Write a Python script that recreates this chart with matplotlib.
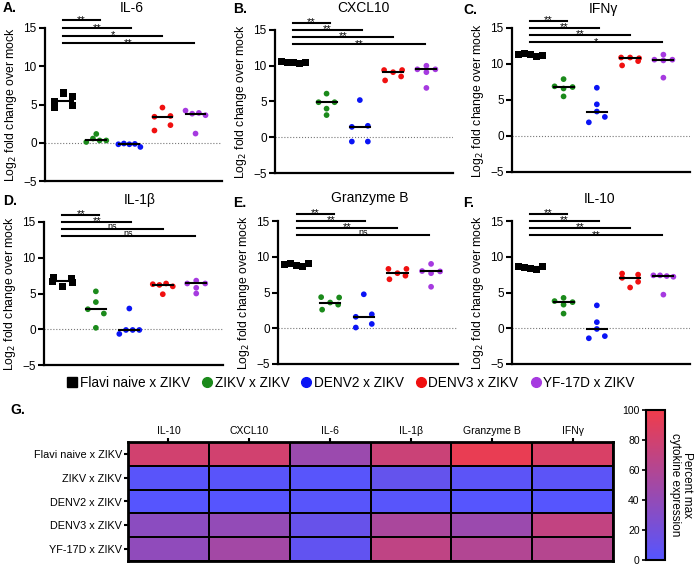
import numpy as np
import matplotlib.pyplot as plt
from matplotlib.colors import LinearSegmentedColormap
from matplotlib.lines import Line2D

plt.rcParams['font.family'] = ['Liberation Sans', 'DejaVu Sans']

# groups / colours
groups = ['Flavi naive x ZIKV', 'ZIKV x ZIKV', 'DENV2 x ZIKV', 'DENV3 x ZIKV', 'YF-17D x ZIKV']
colors = ['black', '#1b8a1b', '#0a14f5', '#f01010', '#a63ae0']
markers = ['s', 'o', 'o', 'o', 'o']

# log2 fold change over mock, 5 per group
il6 = [[6.5, 4.6, 5.4, 6.1, 4.9], [0.1, 0.55, 1.15, 0.3, 0.3], [-0.2, -0.1, -0.2, -0.15, -0.55],
       [4.6, 3.4, 3.5, 1.6, 2.3], [4.2, 3.8, 3.9, 3.6, 1.2]]
cxcl10 = [[10.6, 10.4, 10.5, 10.3, 10.4], [6.1, 4.9, 4.0, 4.9, 3.1], [5.2, 1.45, 1.6, -0.6, -0.6],
          [9.4, 9.1, 9.4, 7.95, 8.5], [10.0, 9.5, 9.1, 9.5, 6.9]]
ifng = [[11.3, 11.5, 11.3, 11.0, 11.2], [7.9, 6.9, 6.6, 6.8, 5.5], [6.7, 4.4, 3.4, 1.9, 2.65],
        [10.9, 10.9, 10.8, 9.8, 10.4], [10.6, 11.3, 10.5, 10.6, 8.1]]
il1b = [[7.2, 6.7, 6.0, 6.5, 7.1], [5.3, 3.8, 2.8, 2.2, 0.2], [2.9, -0.65, -0.1, -0.1, -0.1],
        [6.3, 6.2, 6.4, 6.0, 4.9], [6.4, 6.8, 5.8, 6.4, 5.0]]
gzmb = [[8.9, 9.0, 8.8, 8.7, 9.0], [4.35, 3.6, 4.3, 2.6, 3.3], [4.75, 1.6, 1.95, 0.1, 0.6],
        [8.3, 7.7, 8.3, 6.85, 7.35], [9.0, 8.0, 7.7, 7.95, 5.8]]
il10 = [[8.7, 8.5, 8.3, 8.2, 8.6], [4.25, 3.8, 3.3, 3.65, 2.05], [3.2, 0.85, -0.1, -1.4, -1.1],
        [7.65, 7.5, 7.05, 6.5, 5.7], [7.4, 7.4, 7.3, 7.2, 4.7]]

panels = [('A.', 'IL-6', il6, ['**', '**', '*', '**']),
          ('B.', 'CXCL10', cxcl10, ['**', '**', '**', '**']),
          ('C.', 'IFN\u03b3', ifng, ['**', '**', '**', '*']),
          ('D.', 'IL-1\u03b2', il1b, ['**', '**', 'ns', 'ns']),
          ('E.', 'Granzyme B', gzmb, ['**', '**', '**', 'ns']),
          ('F.', 'IL-10', il10, ['**', '**', '**', '**'])]
sig_y = [16.0, 15.0, 14.0, 13.0]

# heatmap (percent max cytokine expression)
hm_cols = ['IL-10', 'CXCL10', 'IL-6', 'IL-1\u03b2', 'Granzyme B', 'IFN\u03b3']
hm_vals = np.array([[80, 80, 45, 75, 95, 85],
                    [3, 3, 2, 10, 5, 5],
                    [1, 1, 2, 2, 1, 1],
                    [35, 40, 12, 55, 45, 70],
                    [38, 50, 8, 68, 60, 62]])

W, H = 696, 565
fig = plt.figure(figsize=(W / 100, H / 100), dpi=100)

def fbox(l, r, top, bot):
    return [l / W, 1 - bot / H, (r - l) / W, (bot - top) / H]

# pixel boxes (left, right, y=-5 pos, y=15 pos)
boxes = [(45, 222, 181, 28), (275, 453, 173, 30), (512, 690, 172, 28),
         (44, 223, 365, 222), (278, 458, 364, 221), (512, 690, 364, 221)]
letter_pos = [(3, 8), (233, 9), (463, 10), (3, 201), (233, 203), (463, 203)]
title_pos = [(132, 8), (363, 8), (603, 9), (140, 200), (370, 198), (600, 199)]


def row_offsets(vals, xs, ppu, base, thr=5.5):
    # prism-like scatter: points closer than thr px go in one centred row
    vals = np.asarray(vals, dtype=float)
    order = np.argsort(vals, kind='stable')
    rows, cur = [], [order[0]]
    for i in order[1:]:
        if (vals[i] - vals[cur[0]]) * ppu < thr:
            cur.append(i)
        else:
            rows.append(cur)
            cur = [i]
    rows.append(cur)
    offs = np.zeros(len(vals))
    for row in rows:
        n = len(row)
        if n > 1:
            hw = (base + n) / xs
            for j, i in enumerate(sorted(row)):
                offs[i] = -hw + 2 * hw * j / (n - 1)
    return offs


xl = (-0.55, 4.8)
for (letter, title, data, sig), (l, r, ym5, y15), lp, tp in zip(panels, boxes, letter_pos, title_pos):
    ppu = (ym5 - y15) / 20.0
    top = y15 - 2 * ppu
    ax = fig.add_axes(fbox(l, r, top, ym5))
    xs = (r - l) / (xl[1] - xl[0])
    for g, vals in enumerate(data):
        offs = row_offsets(vals, xs, ppu, 7 if markers[g] == 's' else 6)
        ax.scatter(g + offs, vals, s=26 if markers[g] == 's' else 17, marker=markers[g],
                   color=colors[g], edgecolors='none', zorder=3, clip_on=False)
        ax.plot([g - 0.3, g + 0.3], [np.median(vals)] * 2, color='black', lw=1.5, zorder=4)
    ax.axhline(0, color='#777777', ls=':', lw=0.8, zorder=1)
    for k, (yy, s) in enumerate(zip(sig_y, sig)):
        x1 = 0.15 + 0.95 * (k + 1)
        ax.plot([0, x1], [yy, yy], color='black', lw=1.5, clip_on=False)
        ax.text(x1 / 2, yy - 0.6 if s != 'ns' else yy - 0.2, s, ha='center', va='bottom',
                fontsize=8 if s != 'ns' else 6.5)
    ax.set_xlim(*xl)
    ax.set_ylim(-5, 17)
    ax.set_yticks([-5, 0, 5, 10, 15])
    ax.set_xticks([])
    ax.spines['left'].set_bounds(-5, 15)
    for s in ['top', 'right']:
        ax.spines[s].set_visible(False)
    for s in ['left', 'bottom']:
        ax.spines[s].set_linewidth(1.6)
    ax.tick_params(axis='y', width=1.5, length=4, labelsize=8.5, pad=2)
    ax.set_ylabel('Log$_2$ fold change over mock', fontsize=8.8, labelpad=3, y=10 / 22)
    fig.text(tp[0] / W, 1 - tp[1] / H, title, fontsize=10, ha='center', va='center')
    fig.text(lp[0] / W, 1 - lp[1] / H, letter, fontsize=10, fontweight='bold', va='center')

# legend row
handles = [Line2D([], [], marker=markers[i], color=colors[i], ls='none', markersize=7)
           for i in range(5)]
fig.legend(handles, groups, loc='center', bbox_to_anchor=(350 / W, 1 - 383 / H), ncol=5,
           frameon=False, fontsize=9.8, handletextpad=0.05, columnspacing=0.75,
           handlelength=1.0, borderaxespad=0, borderpad=0)

# heatmap
cmap = LinearSegmentedColormap.from_list('bp', ['#5555ff', '#f03c4b'])
hax = fig.add_axes(fbox(128, 613, 442, 561))
mesh = hax.pcolormesh(hm_vals, cmap=cmap, vmin=0, vmax=100, edgecolors='black', linewidth=1.3)
hax.set_xlim(0, len(hm_cols))
hax.set_ylim(len(groups), 0)
hax.xaxis.tick_top()
hax.set_xticks(np.arange(len(hm_cols)) + 0.5)
hax.set_xticklabels(hm_cols, fontsize=7.5)
hax.set_yticks(np.arange(len(groups)) + 0.5)
hax.set_yticklabels(groups, fontsize=7.8)
hax.tick_params(width=1.5, length=3, pad=1.5)
for s in hax.spines.values():
    s.set_linewidth(2)
fig.text(10 / W, 1 - 410 / H, 'G.', fontsize=10, fontweight='bold', va='center')

cax = fig.add_axes(fbox(646, 665, 410, 560))
cb = fig.colorbar(mesh, cax=cax)
cb.set_ticks([0, 20, 40, 60, 80, 100])
cax.yaxis.set_ticks_position('left')
cax.yaxis.set_label_position('right')
cax.tick_params(width=1.2, length=3, labelsize=7.5, pad=1.5)
cb.outline.set_linewidth(1.5)
cb.set_label('Percent max\ncytokine expression', rotation=270, fontsize=8.5, labelpad=20,
             linespacing=1.0)

fig.savefig('out.png', dpi=100)
